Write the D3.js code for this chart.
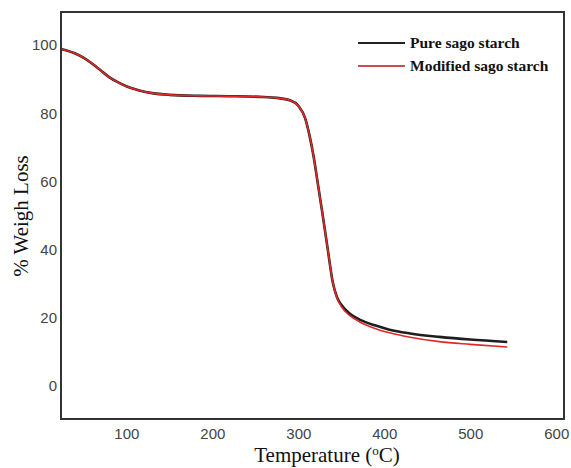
<!DOCTYPE html>
<html><head><meta charset="utf-8">
<script src="https://cdn.jsdelivr.net/npm/d3@7"></script>
<style>body{margin:0;background:#fff}</style>
</head><body>
<script>
const temps = [25,40,50,60,70,80,90,100,115,130,150,185,220,255,275,290,300,308,313,318,322,328,334,340,345,350,360,372,390,406,430,464,500,543];
const pure = [98.8,97.6,96.3,94.6,92.6,90.6,89.1,87.9,86.7,85.9,85.4,85.1,85.0,84.8,84.5,83.8,82.2,78.5,73.5,67,60.5,50.7,40.5,30.5,26,23.8,21.2,19.4,17.7,16.5,15.4,14.4,13.6,12.9];
const modified = [98.8,97.6,96.3,94.6,92.6,90.6,89.1,87.9,86.7,85.9,85.4,85.1,85.0,84.8,84.5,83.8,82.2,78.5,73.5,67,60.5,50.7,40.5,30.5,25.8,23.3,20.6,18.7,16.8,15.6,14.3,13.0,12.2,11.4];
const xTicks = [100,200,300,400,500,600];
const yTicks = [0,20,40,60,80,100];
const seriesNames = ["Pure sago starch","Modified sago starch"];
const seriesColors = ["#1e1e1e","#e02828"];

const W=571,H=468;
const svg=d3.select("body").append("svg").attr("width",W).attr("height",H);
const L=61,R=564,T=12,B=419;
const x=d3.scaleLinear().domain([24,609]).range([L,R]);
const y=d3.scaleLinear().domain([-9.7,109.7]).range([B,T]);

const line=d3.line().x((d,i)=>x(temps[i])).y(d=>y(d)).curve(d3.curveMonotoneX);
svg.append("path").attr("d",line(pure)).attr("fill","none").attr("stroke",seriesColors[0]).attr("stroke-width",2.6);
svg.append("path").attr("d",line(modified)).attr("fill","none").attr("stroke",seriesColors[1]).attr("stroke-width",1.6);

svg.append("rect").attr("x",L).attr("y",T).attr("width",R-L).attr("height",B-T)
  .attr("fill","none").attr("stroke","#333").attr("stroke-width",2);

const xa=svg.append("g").attr("transform",`translate(0,${B})`)
  .call(d3.axisBottom(x).tickValues(xTicks).tickSize(0).tickPadding(9));
const ya=svg.append("g").attr("transform",`translate(${L},0)`)
  .call(d3.axisLeft(y).tickValues(yTicks).tickSize(0).tickPadding(4));
[xa,ya].forEach(a=>{a.select(".domain").remove();
  a.selectAll("text").attr("font-family","Liberation Sans, Arial, sans-serif").attr("font-size",15).attr("fill","#444");});

svg.append("text").attr("transform","translate(28,216) rotate(-90)").attr("text-anchor","middle")
  .attr("font-family","Liberation Serif, Times New Roman, serif").attr("font-size",21).attr("fill","#111")
  .text("% Weigh Loss");
const xt=svg.append("text").attr("x",327).attr("y",462).attr("text-anchor","middle")
  .attr("font-family","Liberation Serif, Times New Roman, serif").attr("font-size",21).attr("fill","#111");
xt.append("tspan").text("Temperature  (");
xt.append("tspan").attr("font-size",13).attr("dy",-7).text("o");
xt.append("tspan").attr("dy",7).text("C)");

const lg=svg.append("g");
seriesNames.forEach((n,i)=>{
  const yy=43+i*23;
  lg.append("line").attr("x1",358).attr("x2",405).attr("y1",yy).attr("y2",yy)
    .attr("stroke",i?"#c85050":"#222").attr("stroke-width",2.2);
  lg.append("text").attr("x",410).attr("y",yy+5).attr("font-family","Liberation Serif, Times New Roman, serif")
    .attr("font-weight","bold").attr("font-size",15.5).attr("fill","#111").text(n);
});
</script>
</body></html>
